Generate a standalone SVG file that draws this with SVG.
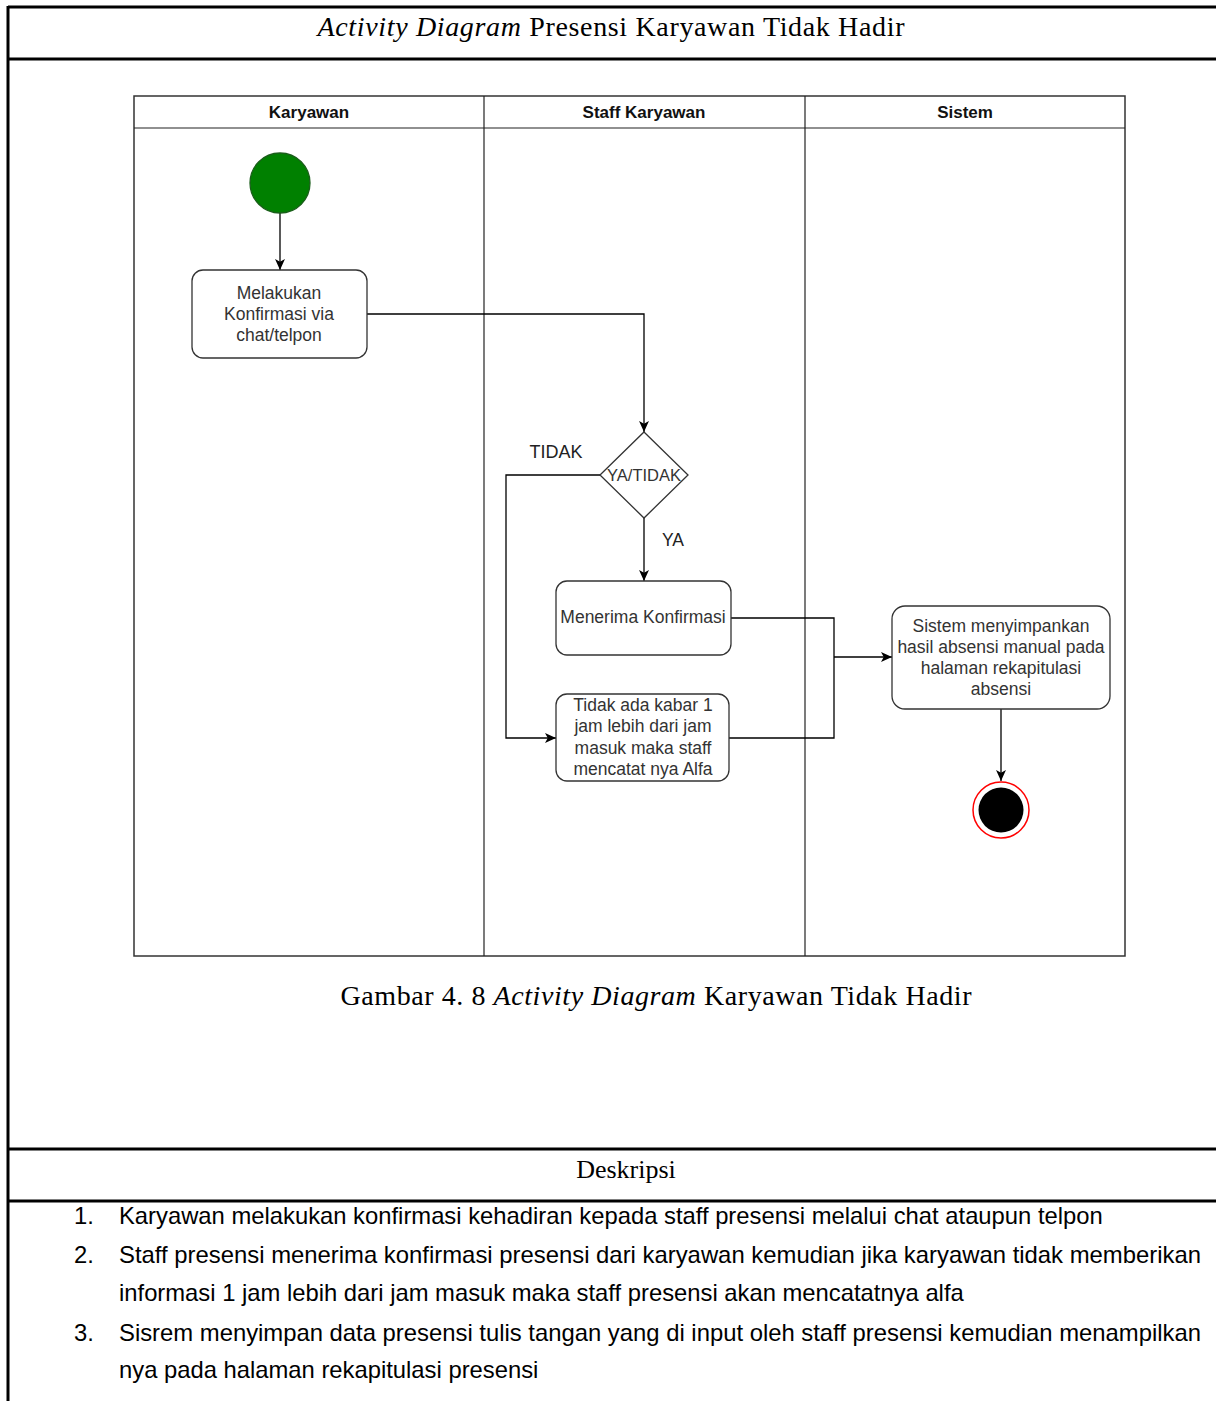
<svg xmlns="http://www.w3.org/2000/svg" width="1216" height="1401" viewBox="0 0 1216 1401">
  <style>
    .doc { font-family: "Liberation Serif", "Times New Roman", serif; fill: #000; }
    .list { font-family: "Liberation Sans", Arial, sans-serif; font-size: 23.8px; fill: #000; }
    .rule { stroke: #000; stroke-width: 3; fill: none; }
    .pool { stroke: #333; stroke-width: 1.5; fill: #fff; }
    .lane { stroke: #222; stroke-width: 1.2; fill: none; }
    .hdr { font-family: "Liberation Sans", Arial, sans-serif; font-size: 17px; font-weight: bold; fill: #111; text-anchor: middle; }
    .act { stroke: #333; stroke-width: 1.3; fill: #fff; }
    .lbl { font-family: "Liberation Sans", Arial, sans-serif; font-size: 17.5px; fill: #333; text-anchor: middle; }
    .edge { stroke: #000; stroke-width: 1.3; fill: none; }
  </style>
  <defs>
    <marker id="arrow" viewBox="0 0 10 10" refX="10" refY="5" markerWidth="11" markerHeight="11" markerUnits="userSpaceOnUse" orient="auto">
      <path d="M0,0.5 L10,5 L0,9.5 L2.5,5 Z" fill="#000"/>
    </marker>
  </defs>

  <rect width="1216" height="1401" fill="#fff"/>

  <!-- document table frame -->
  <g id="frame">
    <line class="rule" x1="8" y1="7" x2="1216" y2="7"/>
    <line class="rule" x1="8" y1="59" x2="1216" y2="59"/>
    <line class="rule" x1="8" y1="1149" x2="1216" y2="1149"/>
    <line class="rule" x1="8" y1="1201" x2="1216" y2="1201"/>
    <line class="rule" x1="8" y1="6" x2="8" y2="1401"/>
    <text class="doc" x="611" y="36" font-size="28" text-anchor="middle" textLength="587" lengthAdjust="spacing"><tspan font-style="italic">Activity Diagram</tspan> Presensi Karyawan Tidak Hadir</text>
  </g>

  <!-- swimlane pool -->
  <g id="pool">
    <rect class="pool" x="134" y="96" width="991" height="860"/>
    <line class="lane" x1="134" y1="128" x2="1125" y2="128"/>
    <line class="lane" x1="484" y1="96" x2="484" y2="956"/>
    <line class="lane" x1="805" y1="96" x2="805" y2="956"/>
    <text class="hdr" x="309" y="118">Karyawan</text>
    <text class="hdr" x="644" y="118">Staff Karyawan</text>
    <text class="hdr" x="965" y="118">Sistem</text>
  </g>

  <!-- connectors -->
  <g id="connectors">
    <line class="edge" x1="280" y1="213" x2="280" y2="270" marker-end="url(#arrow)"/>
    <polyline class="edge" points="367,314 644,314 644,432" marker-end="url(#arrow)"/>
    <line class="edge" x1="644" y1="518" x2="644" y2="581" marker-end="url(#arrow)"/>
    <polyline class="edge" points="600,475 506,475 506,738 556,738" marker-end="url(#arrow)"/>
    <polyline class="edge" points="731,618 834,618 834,738 729,738"/>
    <line class="edge" x1="834" y1="657" x2="892" y2="657" marker-end="url(#arrow)"/>
    <line class="edge" x1="1001" y1="709" x2="1001" y2="781" marker-end="url(#arrow)"/>
    <text class="lbl" x="556" y="458" style="fill:#222;font-size:18px">TIDAK</text>
    <text class="lbl" x="673" y="546" style="fill:#222">YA</text>
  </g>

  <!-- nodes -->
  <g id="start">
    <circle cx="280" cy="183" r="30" fill="#008000" stroke="#1a5e1a" stroke-width="1.3"/>
  </g>

  <g id="konfirmasi">
    <rect class="act" x="192" y="270" width="175" height="88" rx="11"/>
    <text class="lbl" x="279" y="299">Melakukan</text>
    <text class="lbl" x="279" y="320">Konfirmasi via</text>
    <text class="lbl" x="279" y="341">chat/telpon</text>
  </g>

  <g id="keputusan">
    <polygon class="act" points="644,432 688,475 644,518 600,475"/>
    <text class="lbl" x="644" y="481" style="font-size:16.5px">YA/TIDAK</text>
  </g>

  <g id="menerima">
    <rect class="act" x="556" y="581" width="175" height="74" rx="11"/>
    <text class="lbl" x="643" y="623">Menerima Konfirmasi</text>
  </g>

  <g id="alfa">
    <rect class="act" x="556" y="694" width="173" height="87" rx="11"/>
    <text class="lbl" x="643" y="711">Tidak ada kabar 1</text>
    <text class="lbl" x="643" y="732">jam lebih dari jam</text>
    <text class="lbl" x="643" y="754">masuk maka staff</text>
    <text class="lbl" x="643" y="775">mencatat nya Alfa</text>
  </g>

  <g id="simpan">
    <rect class="act" x="892" y="606" width="218" height="103" rx="13"/>
    <text class="lbl" x="1001" y="632">Sistem menyimpankan</text>
    <text class="lbl" x="1001" y="653">hasil absensi manual pada</text>
    <text class="lbl" x="1001" y="674">halaman rekapitulasi</text>
    <text class="lbl" x="1001" y="695">absensi</text>
  </g>

  <g id="end">
    <circle cx="1001" cy="810" r="28" fill="#fff" stroke="#ff0000" stroke-width="1.5"/>
    <circle cx="1001" cy="810" r="22.5" fill="#000"/>
  </g>

  <!-- caption and description -->
  <g id="caption">
    <text class="doc" x="656" y="1005" font-size="28" text-anchor="middle" textLength="631" lengthAdjust="spacing">Gambar 4. 8 <tspan font-style="italic">Activity Diagram</tspan> Karyawan Tidak Hadir</text>
    <text class="doc" x="626" y="1178" font-size="26" text-anchor="middle">Deskripsi</text>
  </g>

  <g id="deskripsi">
    <text class="list" x="74" y="1224">1.</text>
    <text class="list" x="119" y="1224">Karyawan melakukan konfirmasi kehadiran kepada staff presensi melalui chat ataupun telpon</text>
    <text class="list" x="74" y="1263">2.</text>
    <text class="list" x="119" y="1263" textLength="1082" lengthAdjust="spacingAndGlyphs">Staff presensi menerima konfirmasi presensi dari karyawan kemudian jika karyawan tidak memberikan</text>
    <text class="list" x="119" y="1301">informasi 1 jam lebih dari jam masuk maka staff presensi akan mencatatnya alfa</text>
    <text class="list" x="74" y="1341">3.</text>
    <text class="list" x="119" y="1341" textLength="1082" lengthAdjust="spacingAndGlyphs">Sisrem menyimpan data presensi tulis tangan yang di input oleh staff presensi kemudian menampilkan</text>
    <text class="list" x="119" y="1378">nya pada halaman rekapitulasi presensi</text>
  </g>
</svg>
